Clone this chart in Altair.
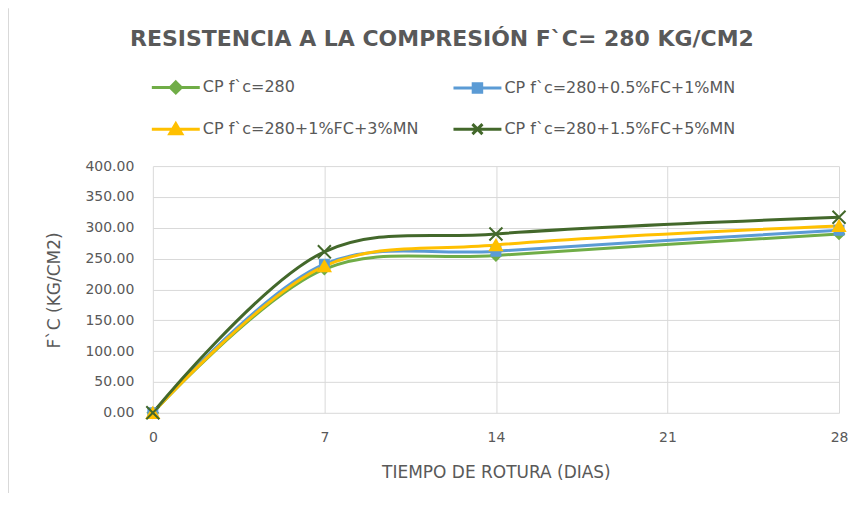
import altair as alt
import pandas as pd

days = [0, 7, 14, 28]
series_names = [
    "CP f`c=280",
    "CP f`c=280+0.5%FC+1%MN",
    "CP f`c=280+1%FC+3%MN",
    "CP f`c=280+1.5%FC+5%MN",
]
s1 = [0.0, 233.0, 255.0, 290.0]
s2 = [0.0, 241.0, 262.0, 296.0]
s3 = [0.0, 238.0, 272.0, 303.0]
s4 = [0.0, 261.0, 290.0, 317.0]
colors = ["#70AD47", "#5B9BD5", "#FFC000", "#43682B"]
x_ticks = [0, 7, 14, 21, 28]
y_ticks = [0, 50, 100, 150, 200, 250, 300, 350, 400]

rows = []
for name, vals in zip(series_names, [s1, s2, s3, s4]):
    for d, v in zip(days, vals):
        rows.append({"serie": name, "dia": d, "fc": v})
df = pd.DataFrame(rows)

GRAY = "#595959"
FONT = "DejaVu Sans"

color_scale = alt.Scale(domain=series_names, range=colors)

x_enc = alt.X(
    "dia:Q",
    scale=alt.Scale(domain=[0, 28], nice=False),
    axis=alt.Axis(
        values=x_ticks,
        tickCount=10,
        title="TIEMPO DE ROTURA (DIAS)",
        labelPadding=18,
        titlePadding=20,
        labelFontSize=14,
        titleFontSize=17,
        titleFontWeight="normal",
        labelColor=GRAY,
        titleColor=GRAY,
        labelFont=FONT,
        titleFont=FONT,
        labelFlush=False,
        labelOverlap=False,
    ),
)
y_enc = alt.Y(
    "fc:Q",
    scale=alt.Scale(domain=[0, 400], nice=False),
    axis=alt.Axis(
        values=y_ticks,
        tickCount=12,
        format=".2f",
        title="F`C (KG/CM2)",
        labelPadding=19,
        labelFontSize=14,
        titleFontSize=17,
        titleFontWeight="normal",
        labelColor=GRAY,
        titleColor=GRAY,
        labelFont=FONT,
        titleFont=FONT,
        labelOverlap=False,
        labelFlush=False,
        titleX=-98,
        titleY=124,
        titleAlign="center",
        titleBaseline="middle",
        titleAngle=270,
    ),
)

base = alt.Chart(df)

legend_shapes = [
    "M-4.8,0H4.8M0,-1.1L1.1,0L0,1.1L-1.1,0Z",
    "M-4.8,0H4.8M-0.85,-0.85H0.85V0.85H-0.85Z",
    "M-4.8,0H4.8M0,-1.1L1.2,0.9L-1.2,0.9Z",
    "M-4.8,0H4.8M-1,-1L1,1M-1,1L1,-1",
]
legend_kwargs = dict(
    orient="none",
    direction="horizontal",
    legendX=15,
    legendY=-87,
    columns=2,
    title=None,
    labelFontSize=16,
    labelColor=GRAY,
    labelFont=FONT,
    labelLimit=400,
    symbolSize=100,
    symbolStrokeWidth=3,
    symbolOpacity=1,
    labelOffset=19,
    rowPadding=18,
    columnPadding=28,
    padding=0,
)
legend_layer = base.mark_point(filled=True, strokeWidth=3, size=0).encode(
    x=x_enc,
    y=y_enc,
    color=alt.Color("serie:N", scale=color_scale, legend=alt.Legend(**legend_kwargs)),
    stroke=alt.Stroke("serie:N", scale=color_scale, legend=alt.Legend(**legend_kwargs)),
    shape=alt.Shape(
        "serie:N",
        scale=alt.Scale(domain=series_names, range=legend_shapes),
        legend=alt.Legend(**legend_kwargs),
    ),
)

lines = base.mark_line(interpolate="catmull-rom", strokeWidth=3).encode(
    x=x_enc,
    y=y_enc,
    color=alt.Color("serie:N", scale=color_scale, legend=None),
    detail="serie:N",
)

point_shapes = ["diamond", "square", "triangle-up", "M-1,-1L1,1M-1,1L1,-1"]
point_sizes = [100, 80, 140, 170]
point_layers = []
for name, shp, sz in zip(series_names, point_shapes, point_sizes):
    point_layers.append(
        base.transform_filter(alt.datum.serie == name)
        .mark_point(shape=shp, filled=True, size=sz, strokeWidth=2, opacity=1)
        .encode(
            x=x_enc,
            y=y_enc,
            color=alt.Color("serie:N", scale=color_scale, legend=None),
            stroke=alt.Stroke("serie:N", scale=color_scale, legend=None),
        )
    )

border = alt.Chart(pd.DataFrame({"a": [0]})).mark_rule(color="#d9d9d9", strokeWidth=1).encode(
    x=alt.value(-144.5), y=alt.value(-158), y2=alt.value(346)
)

chart = (
    alt.layer(legend_layer, border, lines, *point_layers)
    .properties(
        width=687,
        height=247,
        padding={"left": 145, "top": 158, "right": 20, "bottom": 80},
        autosize=alt.AutoSizeParams(type="none"),
        title=alt.Title(
            "RESISTENCIA A LA COMPRESIÓN F`C= 280 KG/CM2",
            font="DejaVu Sans",
            fontSize=22,
            fontWeight="bold",
            color=GRAY,
            anchor="middle",
            frame="group",
            baseline="alphabetic",
            offset=-60,
            dx=-54,
        ),
    )
    .configure_view(stroke=None)
    .configure_axis(
        grid=True,
        gridColor="#d9d9d9",
        gridWidth=1,
        domain=False,
        ticks=False,
    )
)

chart.save("out.html", embed_options={"renderer": "svg", "actions": False})
